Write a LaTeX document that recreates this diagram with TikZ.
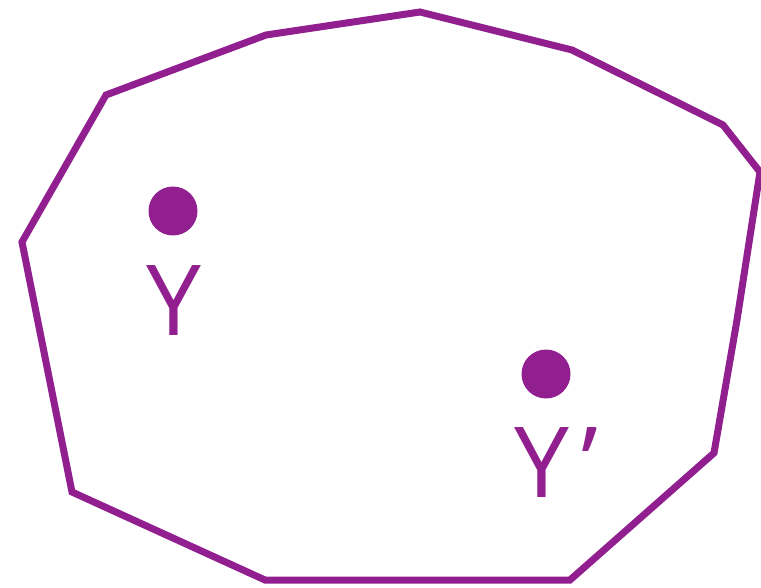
\documentclass[tikz,border=0pt]{standalone}
\usepackage{fontspec}
\setmainfont{Open Sans}
\definecolor{plum}{RGB}{146,31,144}
\tikzset{
  outline/.style={draw=plum, line width=7pt, line join=miter},
  dot/.style={circle, fill=plum, inner sep=0pt, minimum size=49pt},
  lbl/.style={text=plum, inner sep=0pt, font=\fontsize{98}{98}\selectfont}
}
\begin{document}
\begin{tikzpicture}[x=1pt,y=-1pt]
\useasboundingbox (0,0) rectangle (761,588);
\draw[outline] (420,12) -- (572,50) -- (723,125) -- (760,172) -- (737,320) -- (714,453) -- (570,580) -- (265,580) -- (72,492) -- (22,242) -- (106,95) -- (266,35) -- cycle;
\node[dot] (d1) at (173,211) {};
\node[dot] (d2) at (546,374) {};
\node[lbl, anchor=base] (y1) at (174,335) {Y};
\node[lbl, anchor=base west] (y2) at (514,497) {Y\kern12pt’};
\end{tikzpicture}
\end{document}
